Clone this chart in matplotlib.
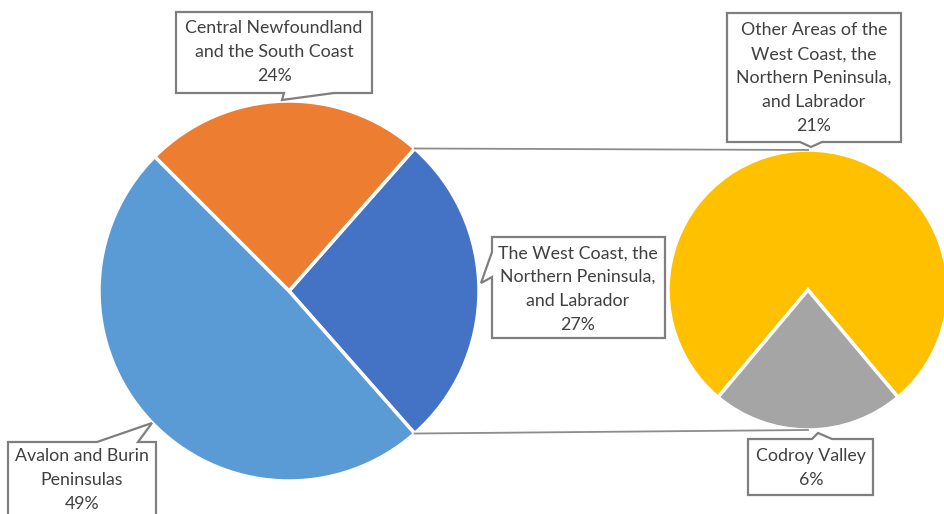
import matplotlib
matplotlib.use("Agg")
import matplotlib.pyplot as plt
from matplotlib.patches import Polygon
import numpy as np

# main pie: regions
main_labels = ["The West Coast, the\nNorthern Peninsula,\nand Labrador",
               "Central Newfoundland\nand the South Coast",
               "Avalon and Burin\nPeninsulas"]
main_values = [27, 24, 49]
main_colors = ["#4472C4", "#ED7D31", "#5B9BD5"]

# secondary pie: breakdown of the West Coast slice
sub_labels = ["Other Areas of the\nWest Coast, the\nNorthern Peninsula,\nand Labrador",
              "Codroy Valley"]
sub_values = [21, 6]
sub_colors = ["#FFC000", "#A5A5A5"]

W, H = 945, 514
plt.rcParams['font.family'] = ['Lato', 'DejaVu Sans']

fig = plt.figure(figsize=(W / 100, H / 100), dpi=100)
ax = fig.add_axes([0, 0, 1, 1])


def fy(y):
    # pixel row (top-down) to axis y
    return H - y


c1, r1 = (289, fy(291)), 190
c2, r2 = (808, fy(290)), 140

half = 360 * main_values[0] / sum(main_values) / 2
ax.pie(main_values, colors=main_colors, startangle=-half, counterclock=True,
       center=c1, radius=r1, frame=True,
       wedgeprops=dict(edgecolor='white', linewidth=2.5))

sub_gray = 360 * sub_values[1] / sum(sub_values)
ax.pie(sub_values, colors=sub_colors, startangle=-90 + sub_gray / 2, counterclock=True,
       center=c2, radius=r2, frame=True,
       wedgeprops=dict(edgecolor='white', linewidth=2.5))
ax.set_xlim(0, W)
ax.set_ylim(0, H)
ax.set_aspect('equal')
ax.axis('off')

# connector lines from the split slice to the secondary pie
for sgn in (1, -1):
    a = np.radians(sgn * half)
    x0 = c1[0] + r1 * np.cos(a)
    y0 = c1[1] + r1 * np.sin(a)
    ax.plot([x0, c2[0]], [y0, c2[1] + sgn * r2], color='#8C8C8C', lw=1.3, zorder=1)


def callout(pts, text, cx, cy):
    poly = Polygon([(x, fy(y)) for x, y in pts], closed=True, facecolor='white',
                   edgecolor='#7F7F7F', lw=1.6, zorder=5)
    ax.add_patch(poly)
    ax.text(cx, fy(cy), text, ha='center', va='center', fontsize=12.8, color='#404040',
            linespacing=1.6, zorder=6)


def pct(v):
    return f"{round(100 * v / sum(main_values))}%"


# Central Newfoundland (pointer on bottom edge)
callout([(176, 12), (372, 12), (372, 93), (334, 93), (282, 100), (284, 93), (176, 93)],
        main_labels[1] + "\n" + pct(main_values[1]), 274, 52)
# West Coast (pointer on left edge)
callout([(492, 237), (665, 237), (665, 338), (492, 338), (492, 277), (481, 283),
         (492, 252)],
        main_labels[0] + "\n" + pct(main_values[0]), 578, 289)
# Avalon (pointer on top edge)
callout([(8, 442), (97, 442), (152, 423), (138, 442), (156, 442), (156, 520), (8, 520)],
        main_labels[2] + "\n" + pct(main_values[2]), 82, 480)
# Other Areas (pointer on bottom edge)
callout([(727, 13), (901, 13), (901, 142), (822, 142), (811, 147), (800, 142),
         (727, 142)],
        sub_labels[0] + "\n" + pct(sub_values[0]), 814, 78)
# Codroy Valley (pointer on top edge)
callout([(748, 439), (812, 439), (818, 433), (832, 439), (873, 439), (873, 495),
         (748, 495)],
        sub_labels[1] + "\n" + pct(sub_values[1]), 811, 468)

fig.savefig("out.png", dpi=100)
